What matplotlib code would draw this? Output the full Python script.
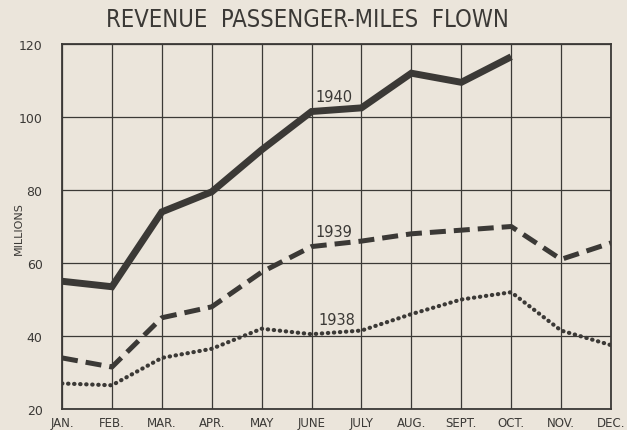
import matplotlib.pyplot as plt

months = ["JAN.", "FEB.", "MAR.", "APR.", "MAY", "JUNE", "JULY",
          "AUG.", "SEPT.", "OCT.", "NOV.", "DEC."]
y1940 = [55, 53.5, 74, 79.5, 91, 101.5, 102.5, 112, 109.5, 116.5]
y1939 = [34, 31.5, 45, 48, 57.5, 64.5, 66, 68, 69, 70, 61, 65.5]
y1938 = [27, 26.5, 34, 36.5, 42, 40.5, 41.5, 46, 50, 52, 41.5, 37.5]
yticks = [20, 40, 60, 80, 100, 120]

bg = "#ebe5db"
ink = "#3b3936"

fig = plt.figure(figsize=(6.27, 4.31), dpi=100, facecolor=bg)
ax = fig.add_axes([0.0989, 0.0487, 0.8756, 0.8469])
ax.set_facecolor(bg)

x = list(range(len(months)))
ax.plot(x[:len(y1940)], y1940, color=ink, lw=5.0, solid_joinstyle="miter",
        solid_capstyle="butt", zorder=3)
ax.plot(x, y1939, color=ink, lw=3.6, dashes=(3.2, 1.6), zorder=3)
ax.plot(x, y1938, color=ink, lw=3.0, linestyle=(0, (0.1, 1.35)),
        dash_capstyle="round", zorder=3)

ax.text(5.45, 105.5, "1940", ha="center", va="center", fontsize=10.5, color=ink)
ax.text(5.45, 68.5, "1939", ha="center", va="center", fontsize=10.5, color=ink)
ax.text(5.5, 44.5, "1938", ha="center", va="center", fontsize=10.5, color=ink)

ax.set_xlim(0, 11)
ax.set_ylim(20, 120)
ax.set_xticks(x)
ax.set_xticklabels(months, fontsize=8.5, color=ink)
ax.set_yticks(yticks)
ax.set_yticklabels([str(v) for v in yticks], fontsize=9, color=ink)
ax.tick_params(length=0, pad=5)
ax.tick_params(axis="y", pad=14)
ax.grid(True, color=ink, lw=0.9)
ax.set_axisbelow(True)
for s in ax.spines.values():
    s.set_color(ink)
    s.set_linewidth(1.3)

fig.text(0.03, 0.47, "MILLIONS", rotation=90, ha="center", va="center",
         fontsize=8, color=ink)
fig.text(0.49, 0.953, "REVENUE  PASSENGER-MILES  FLOWN", ha="center",
         va="center", fontsize=17, color=ink, fontstretch="condensed")

fig.savefig("out.png", dpi=100, facecolor=bg)
